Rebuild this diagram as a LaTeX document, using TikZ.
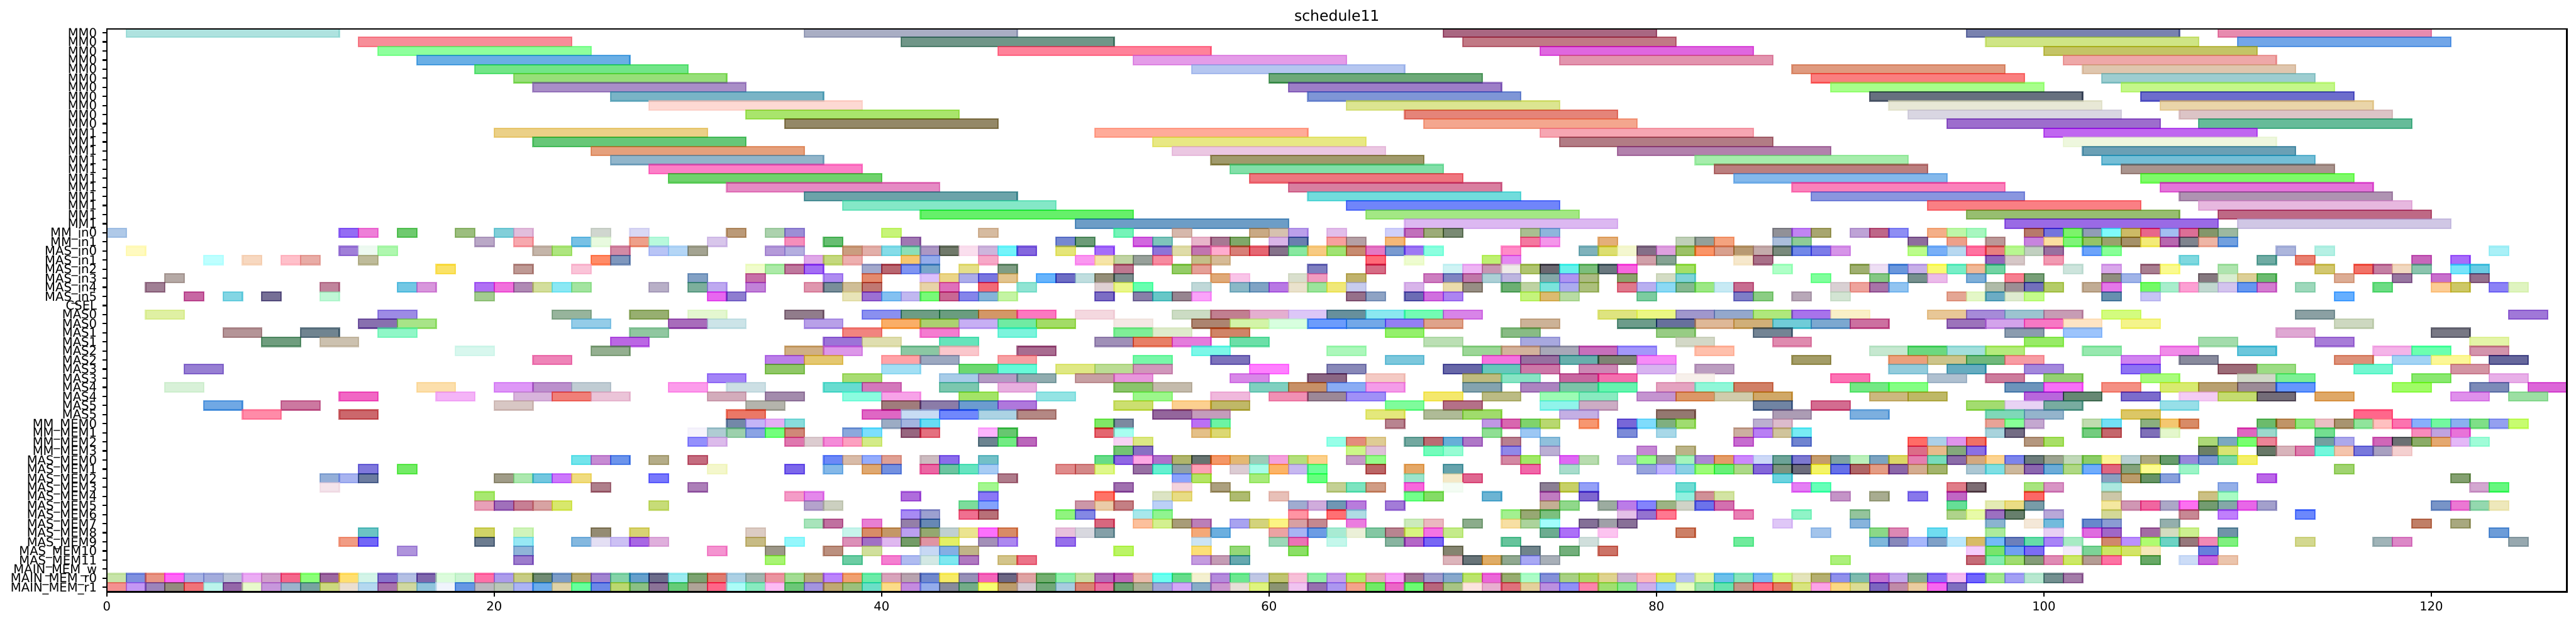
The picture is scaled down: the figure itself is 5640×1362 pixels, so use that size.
\documentclass[tikz,border=0pt]{standalone}
\usepackage{fontspec}
\setmainfont{DejaVu Sans}
\makeatletter
\newcommand\gSplit{}
\def\gSplit#1,#2,#3\relax{\def\gr{#1}\def\gg{#2}\def\gb{#3}}
\makeatother
\newcommand\gBar[4]{% row, start, width, seen colour of the fill over white
  \edef\gTmp{\noexpand\definecolor{cf}{HTML}{#4}}\gTmp
  \extractcolorspecs{cf}{\gM}{\gV}%
  \expandafter\gSplit\gV\relax
  \pgfmathsetmacro\gR{max(0,(\gr-0.4)/0.6)}%
  \pgfmathsetmacro\gG{max(0,(\gg-0.4)/0.6)}%
  \pgfmathsetmacro\gB{max(0,(\gb-0.4)/0.6)}%
  \definecolor{cb}{rgb}{\gR,\gG,\gB}%
  \pgfmathsetmacro\gXa{234+42.41*#2}%
  \pgfmathsetmacro\gXb{234+42.41*(#2+#3)}%
  \pgfmathsetmacro\gYa{71.7+19.89*#1-9.945}%
  \pgfmathsetmacro\gYb{71.7+19.89*#1+9.945}%
  \path[barstyle,fill=cb,draw=cb] (\gXa,\gYa) rectangle (\gXb,\gYb);}
\newcommand\Rw[3]{\foreach \s/\h in {#3}{\gBar{#1}{\s}{#2}{\h}}}
\tikzset{
  barstyle/.style={line width=0.75pt,fill opacity=.6,draw opacity=.6},
  axisline/.style={line width=0.75pt,black},
  ticklabel/.style={inner sep=0pt,font=\fontsize{6.75}{8}\selectfont},
  titlelabel/.style={inner sep=0pt,font=\fontsize{8.1}{10}\selectfont}
}
\begin{document}
\begin{tikzpicture}[x=0.25pt,y=-0.25pt]
\useasboundingbox (0,0) rectangle (5640,1362);
\fill[white] (0,0) rectangle (5640,1362);
\begin{scope}
\clip (234,63) rectangle (5620,1295);
\Rw{0}{11}{1/B0E3DF,36/A9AEC4,69/AA6883,96/7A83B0,109/E78BB0}
\Rw{1}{11}{13/F78E99,41/709689,70/C27986,97/CFE585,110/72A6E8}
\Rw{2}{11}{14/8FFF9E,46/FF829A,74/E067E0,100/C5C466}
\Rw{3}{11}{16/6AB0E5,53/E49CE8,75/E295AE,101/EFA8A8}
\Rw{4}{11}{19/72E689,56/B5C6F0,87/E09B80,102/E0C6AE}
\Rw{5}{11}{21/98DF7A,60/6DA978,88/FA8080,103/9DCDD0}
\Rw{6}{11}{22/AA8EC8,61/9E7EC8,89/A8FF8C,104/C5F88A}
\Rw{7}{11}{26/7AB4C6,62/7F96D6,91/687080,105/6D6DCC}
\Rw{8}{11}{28/FDD9D3,64/DDE691,92/E9E8D6,106/EAD5AA}
\Rw{9}{11}{33/A9E56C,67/E5847A,93/DAD6E3,107/DCC4C6}
\Rw{10}{11}{35/958967,68/F5A68F,95/9E6ECE,108/66BC99}
\Rw{11}{11}{20/ECD087,51/FFAB99,74/F6A6B2,100/C066F0}
\Rw{12}{11}{22/68C878,54/E9E984,75/B37D86,101/EFF8DE}
\Rw{13}{11}{25/E5A07C,55/EBC8E3,78/B381AD,102/6AA0B6}
\Rw{14}{11}{26/92B5CA,57/A09A6C,82/A6EDAC,103/75BED6}
\Rw{15}{11}{28/FC7FC8,58/82DFA8,83/BC8080,104/A9948E}
\Rw{16}{11}{29/70D26E,59/EE7680,84/84B8EC,105/7EFA69}
\Rw{17}{11}{32/E68BC5,61/D87FA0,87/FA82BC,106/E475DA}
\Rw{18}{11}{36/6CA3AA,62/72DDDD,88/8A96E0,107/AF93B3}
\Rw{19}{11}{38/84E8C8,64/7086FB,94/FA8084,108/E7B8E0}
\Rw{20}{11}{42/64F06A,65/A4E884,96/98BE70,109/BF6985}
\Rw{21}{11}{50/6E9DC6,67/DCB8F2,98/9B6BE5,110/D0C8E6}
\Rw{22}{1}{0/B0C9E8,12/946EF5,13/EE7FD8,15/6FCB6F,18/9CBE80,20/82CFD9,21/E3BFDC,25/D0D6CF,27/DAD8F4,32/BB9B78,34/ACD2AE,35/9C8FD6,40/C8F57A,45/D6BBA0,52/75F5B8,55/D6B8AD,59/C9AA84,60/D6C2B0,61/BBA0EC,63/E3BFEA,66/D0D0FA,67/C270BB,68/9CAD78,69/7A8A73,73/A9BF90,74/8FB5DC,86/919197,87/C184F3,88/A8A670,90/BFA3D6,91/BE6688,92/8F8FF5,94/F4B088,95/BFF7A8,96/A8F7C0,99/B77A6A,100/7575DD,101/7DF56A,102/929EB5,103/7FFAFA,104/CDBB66,105/E9668A,106/A3BEF2,107/DD6F96,108/84966A,109/9CB8A0}
\Rw{23}{1}{19/BAA8C8,21/F8A8AE,24/78C2E5,25/E8FAE0,27/EFA08A,28/B8F9DC,31/D8C6EC,35/F68FBB,37/68BE72,41/A078B3,49/7788D0,50/6C9C78,53/D268E0,54/7EC5BC,56/E8B5CB,57/A87893,58/7FA869,60/D9B6E9,61/6B7FAF,63/F8A09E,64/B5A0A5,66/F4B878,73/F478A0,74/F496EA,77/E4B07A,81/C0D0B8,82/95A09A,83/F5A480,86/ABBEDB,87/8FCC98,93/8F6D9E,95/EFA08A,97/BC9898,99/C884DE,100/FCDFA0,101/80F57A,102/94C465,103/9AA26C,104/A59269,105/F3EC78,106/B868B0,107/80848F,108/EFB5A5,109/72A0E0}
\Rw{24}{1}{1/FFFAC0,12/A080D8,13/EEFAF2,14/B0F7B0,22/C5B5A9,23/AEE580,26/D48AA5,28/B8C4F6,29/B4D6F6,30/A3A392,34/B49ADA,35/B4AEE0,38/CB9D80,39/E3B0AA,40/85DCE8,41/8CE0B8,42/AC98C4,43/70796A,44/FBE0EE,45/CEB6DC,46/74F4FA,47/8468DE,49/E6E678,51/A56EF9,54/8E74D8,55/E0DCA8,56/C275B0,57/FFADCF,58/D88078,59/E66672,60/85728A,61/88E8A0,62/F8CB82,63/A0E274,64/C88C70,65/E478C4,66/7A9AD0,67/9D78F5,68/8CFFE0,72/FF8CC8,76/80B2BC,77/DCDE70,78/F5F7D0,79/846F88,80/DEA0E0,81/9CC268,82/FA9468,83/D8A08E,84/B89B72,85/C4ABAB,86/7A8A7D,87/7288E8,88/7D7DE8,89/D695E8,93/BCFC8C,94/7AAFF8,95/B8D8F0,96/FF72A0,97/E88080,98/B8F792,99/C2D0C0,100/9970A0,102/6CA4FA,103/88FF98,112/ACB6DC,114/B6F0E4,123/AAF0F8}
\Rw{25}{1}{5/BEFFFF,7/F8D8C0,9/FFC0CA,10/E8ACA6,13/BEBC9B,25/FF8C68,26/7F97BD,36/E0A8E8,37/C4D87E,38/EDB0B0,41/F8C870,42/94ACEC,45/F8A8C8,50/FB98F0,51/F6E6A8,52/C0D4A4,53/98A09B,54/F68CA0,56/C4BE88,57/D6BC98,65/FF6B78,67/EEFCD0,71/BEF072,72/E488F2,79/D0A0AA,80/86A493,84/F6E8CC,85/A87088,97/9464BC,98/D6C8C8,100/F29AB2,107/80D8E0,111/6FABA3,113/E88070,119/C868BC,121/A86EFA}
\Rw{26}{1}{17/FAE368,21/BF9995,24/FAC4D8,33/F0FCCC,34/ACEAA8,35/BF789D,36/A46EF5,39/A4A9CC,40/B86670,41/7F95F2,42/7AA6CC,44/E6E08A,46/7F9E84,52/BF7890,55/94CC68,56/E4A098,62/8080C0,65/D66C86,69/CFF3F5,70/EEB5F5,71/C896B2,72/EFEBE8,73/B0C470,74/6A6870,75/66F2EC,76/7CBE7C,77/6A7880,78/F866E0,81/A4E064,86/B0FFC8,90/9FB070,91/EEE0F4,92/6A98DC,93/C8B0E8,94/FAFA72,95/78EEC8,96/F0B898,97/72D4A4,101/CEE4DC,103/D9A8EC,105/A87E90,106/FAFA90,109/B0E4B0,114/D2C870,116/F27268,117/C480A4,118/F2D8C0,119/8CC4AE,121/78E4FA,122/6ACCE4}
\Rw{27}{1}{3/B6A9A5,30/82A0C4,33/C870A8,37/AE8CF2,39/E48A6E,42/DCC0FC,43/EBD588,44/ACACEA,45/7A76E0,46/E2C48E,48/68B4FC,49/6E6EC4,50/C0DEE0,51/948E78,52/7C8E8E,57/E0AA78,58/F9C4E8,61/DAE0CE,62/F19CC0,64/C0B26C,68/CE7EC0,69/7F86C2,70/C078A8,71/ADD0D6,72/BDB6E0,74/86A8A8,75/B094F2,76/ACBC84,78/8CA46C,80/D4DCC4,81/80D4D8,88/80FF9C,91/84C884,93/76908E,94/EBBCEA,96/80B0D8,98/F68090,99/789F78,103/908E80,104/A0B4E8,108/86787F,109/D8EED0,110/DCCF98,111/6CBC70,115/DCAC94,118/9876A0,120/C870CC,122/94708F}
\Rw{28}{1}{2/A07F94,11/C0849C,15/72C8E4,16/D896DC,19/B070F5,20/F270DC,21/B08AB4,22/D4DE9C,23/8CE8F5,24/A4E4A0,28/B8B0C8,30/7CB09C,31/BEAAF0,33/C282D8,36/E096AE,37/7A8F9A,38/CFBE98,39/C07872,42/E8D4A8,43/E070BC,45/F26A76,47/90E4D4,51/E0D0D4,52/EAF78C,53/68FFB0,56/C0D8D8,58/8AB8C8,59/80A4C4,60/B878E4,61/EAE2CC,62/9CE49C,63/F0E878,64/C8CCEE,67/D8B4EA,69/EADCAC,70/988E84,72/6CB074,73/BED4A4,74/7CE4DC,75/ACACEE,76/ACC07C,78/E0788C,79/B8B0F0,80/8CDAF5,81/84B890,82/9CE884,83/C8EAF5,84/C86C90,89/DAD0D4,90/EEA49C,91/A874A8,92/92C4F2,97/B0BCA8,98/9C8E94,99/7270BC,100/B4CC68,102/C2AC94,103/E478E8,105/74FA64,106/A8EECC,107/FCA0D4,108/C2D8D0,109/D4C4EE,110/6498F0,111/D47CD0,113/9ED8BC,117/6CDC84,120/FCCC94,121/CEC866,123/8C82F6,124/E0F4C0}
\Rw{29}{1}{4/C868A4,6/84D6E4,8/766F96,11/C0F8D6,19/A4CC90,31/E868F0,32/8E7ED0,38/E8E4B8,39/9C70D4,40/84C2F2,41/C2B8F0,42/78FA78,43/CA6894,44/8686EA,45/86B4D8,46/C4F4A4,51/7C6EC4,53/8880A8,54/68C8C8,55/988590,56/FAA4FA,64/96708A,65/8EA4C4,67/6C6CB4,68/D070E0,69/AC84F2,73/C4F47C,74/DCBC70,75/B8DCA4,79/7CCCA0,84/7E7EC8,85/8CCE84,87/B8A8B8,89/D4E4D4,95/E4A694,96/E4F8C8,97/6CACC4,98/E0ECD0,99/C4FC8C,103/6890B0,105/C8C4F4,115/64B0FF}
\Rw{31}{2}{2/E0F0A4,14/9E8CE6,23/98B49C,27/98B070,30/E4F8D0,35/917D8C,39/8A90F0,41/6E9E84,43/6A9E80,45/D49868,47/FC78C0,50/F4D8E0,55/CCDCC4,57/C28090,59/E4B0D0,61/DCC8F8,63/68909C,65/8CE8F0,67/74FCB4,69/D884E8,77/DEE480,79/ECF884,81/A098CC,83/94A8CC,85/B0E87C,87/A874EC,89/FAF0C8,94/E8C898,96/A68CD8,98/9CC4D0,100/C89CB4,103/D4FC80,113/8CA0A4,124/A078D8}
\Rw{32}{2}{13/8870B0,15/A8E488,24/94CCE8,29/A86CBC,31/CCE4E8,36/B8A0E8,40/FAAE68,42/ACD070,44/C8B0F4,46/70ECA4,48/A4DC64,52/F4E8E4,56/AC8470,58/D4F4A8,60/D8FFE0,62/6C9CFC,64/74A8E8,66/9480F4,68/E0A48C,73/CCB298,78/6E9C8C,80/68709C,82/DEB898,84/D0B078,86/70CCD8,88/7CA8D0,90/CC70A0,95/9C74BC,97/D4A4EC,99/F878C4,101/FEE4C4,104/F4F48C,115/CED8C0}
\Rw{33}{2}{6/B49498,10/708490,14/90F8C8,27/90C8A0,38/F28480,42/F47CD0,46/7CF4DC,52/80EE98,54/E0ECCC,57/D08468,66/94F06C,72/88BC84,80/98CC84,85/748494,98/8C9CB0,101/9CC4FC,112/E0A8D4,120/787884}
\Rw{34}{2}{8/6F9E7E,11/CCC2B0,26/BC68E4,37/9C74D8,39/E0DEB0,43/64E4BC,51/A090B8,53/E88060,55/E47CDC,58/6CE0A8,68/BCE0B4,73/A8A8E0,81/D4D8C8,86/E08CB0,99/98EC64,108/A4DCAC,114/A87CD8,122/E4F4A8}
\Rw{35}{2}{18/D8F8EE,25/94B090,35/D0B084,37/DC98E8,41/8CC8A4,43/FBC8CC,47/A86C90,56/7CF8E8,63/ACF8BC,70/9CD698,72/D4B29C,74/A8A8B8,76/C870BC,78/A498FA,82/FFC0AC,91/C6E8D0,93/6CD880,95/A4E0DC,97/B4EC7C,102/98E8B0,106/F08CE8,110/6CC8DC,117/F4B4E8,119/6CFFB0,122/D494AC}
\Rw{36}{2}{22/EE84B8,34/BC80E8,36/E4C870,40/FFA4A8,42/9CA8C0,46/F8A0A4,53/78F8A8,57/7C72BC,66/7CC8DC,71/F474E0,73/9870A0,75/68B0AC,77/7E8474,79/F88CF8,87/A49C68,92/ECA07C,94/CCC48C,96/70B87C,98/F89CA4,104/D084F0,107/888A9C,115/DC9078,118/A4D4F4,120/FCF898,123/64689C}
\Rw{37}{2}{4/9880D4,34/90C868,40/A4E0F4,44/6CD870,46/68FAD8,49/E0E884,51/BCDC94,53/D098BC,59/FF80FF,63/8888B8,69/6868A8,71/68C8BC,73/CC78A8,76/CC88B4,79/D8B4F0,82/BC9EC0,92/94CCDC,95/60ACC0,99/A488DC,104/8E74F4,109/9C6C78,111/9CDC84,116/74F8D0,121/D494A4}
\Rw{38}{2}{31/A484F8,38/A8DC74,43/A8CCE8,45/B49CC4,47/90ACB0,50/C8A0A4,52/E898DC,58/D888E8,62/8C6884,65/F4CAC4,70/BEBC80,72/88E4C4,75/C868A0,77/F470B0,81/F8F0EC,89/FC74B4,94/B0C0D0,97/CC7C9C,100/94D074,105/A8FC7C,110/D0D8C8,112/7CF094,119/8AE870,123/E8B0E8}
\Rw{39}{2}{3/D8F2D8,16/FCE0AC,20/DE98F8,22/BC90CC,24/C0CCD4,29/FC9CEC,32/CCE0E4,37/68DCD0,39/D478BC,43/7CC8B0,46/E8B0E0,52/8CC46C,54/C4BCAC,59/80D0C0,61/C89068,63/8AACF4,65/F49CE8,70/84A4B0,73/AC84C0,75/7CC4A8,77/68F4B0,80/E4A4C0,82/90F8D8,84/D08060,90/74E884,92/84FF84,98/6C94BC,100/F870F8,103/F49084,106/D8EC70,108/B8A070,110/9C8C98,112/6498FC,118/A0FC58,122/7C8CB8,125/DC60D8}
\Rw{40}{2}{12/F268C4,17/F4B4F8,21/D8B4DC,23/F08078,25/ECC4D8,31/D4ACBC,34/A48CAC,38/8CFCE0,40/F8A4E8,44/A4E468,48/94E4E4,53/9CF88C,57/F0B8DC,60/F090B4,62/9C8898,64/A090F8,68/F4E86C,71/BCBC84,74/9CFCB4,76/88ECC0,79/C494D0,81/DC9868,83/D0CCAC,85/D0A868,91/CCB880,93/BEB864,99/B868DC,101/648874,104/7C6CCC,107/F4CCF4,109/C4DC70,111/746C78,114/E0A868,121/E090EC,124/9CE0A4}
\Rw{41}{2}{5/70A8E4,9/CC78A0,20/D8C8C4,33/B4B4AC,40/A07C7C,42/8C7CA8,44/6C9CD0,46/B078DC,52/CCE070,55/FCD090,57/C0B868,66/80FC9C,69/B47088,74/90F4EC,76/CCACC4,85/7084A4,88/D46C90,96/A4DC70,98/E8D4F4,100/78ACA0,106/98E0E8}
\Rw{42}{2}{7/FF8CA8,12/CC686C,32/EC7868,39/E068C4,41/C8DCF4,43/7088FC,45/ACD4E4,47/B48884,54/94649C,56/C49CBC,65/E4E87C,68/B0BC98,70/A0DC6C,75/C4B0E4,80/947870,86/AC9CB4,90/7CB0E0,97/80D8B8,99/94B4CC,104/DCC864,116/FF688C}
\Rw{43}{1}{32/7488A8,33/C4B4F8,34/E4B0F4,35/88DCDC,40/9CACC4,41/A4B4E0,42/68DCF4,51/80E860,52/7C8AA0,56/BC70F4,57/6CF4A4,66/B88490,71/C098E4,72/D868B0,73/80D46C,74/B8D870,76/F89870,78/7868D8,79/80DCFC,80/80B080,81/A0DC70,85/BCB0D0,86/DCBCCC,97/E8A498,98/88FF98,99/C4A8D0,102/C0DCB0,103/74E0F4,105/8CB080,106/F4C870,107/D88C68,111/6CBC6C,112/C09468,113/90E880,114/ECC0C4,115/A89470,116/90E49C,117/FFC0C0,118/FC74B0,119/88B0FC,120/74F8A0,121/8CB0F0,122/80E088,123/94A0F0,124/C8FC70}
\Rw{44}{1}{30/F6F4FC,31/B0CCD4,32/9CD0AC,33/8CA4E4,34/74FF7C,35/D08878,38/8CA8DC,39/7CE0FC,41/985C80,42/E47080,45/FCB4FC,46/68C870,51/E46470,52/A8FFF0,56/E4C088,57/DCD874,71/90E094,73/9CC8F4,78/7C8CD8,80/A8D8E8,84/CCB0A0,85/B880F4,86/D0C49C,87/78ECF4,97/A8D4DC,98/746C84,102/74CC80,103/C4686C,105/8070B8,106/E4F8CC,110/E064C0,111/9CD8CC,114/74E090,119/F88CBC,120/C0A4E0,121/E874D8}
\Rw{45}{1}{30/9490FC,31/DCBCEC,35/E078B0,36/DCCCD0,37/F48CD8,38/FCA0C0,39/D4EC88,45/6C8490,46/74EC84,47/BC68BC,52/F8D4F4,53/DCE884,63/98FFE8,64/E48C7C,65/E0CC94,67/74A8A0,68/BC6C74,69/68B0D8,70/B078C8,72/B88090,74/90C0DC,84/C86CD0,87/7084D0,93/FF6C68,94/ACD0E8,95/E094EC,96/F07064,99/B49880,100/A8E05C,108/ACD878,109/7CA8C0,110/78FF70,111/EC8498,114/74A0A0,115/ACA8EC,117/D068B8,118/6C7074,119/8CAC68,120/E4A870,121/E4B8F8,122/A0FCD8}
\Rw{46}{1}{52/74C474,53/8870C4,64/CCF888,65/E0C0D8,68/74FCBC,69/98FCD4,72/9088E8,74/BCB0D4,79/C488D4,81/BCB488,93/DC6C88,94/E8BC8C,95/84A87C,96/8C70E4,108/6C8068,109/D8E474,111/687868,112/D8B4BC,113/DC7CAC,114/74F8DC,115/F4C4AC,116/7878DC,117/A8A0C0,118/F4D0D0}
\Rw{47}{1}{24/74E4EC,25/C68CD4,26/6C94EC,28/B4AC88,30/C46C80,37/6C88F8,38/D8BCA8,39/94ACFC,40/E0A094,42/CCBCC0,43/8C6CEC,45/74C0C8,51/68DC88,52/9068E4,53/FCA8E4,54/B070CC,55/B0B46C,56/687470,57/F49868,58/E4B874,59/9CCCB8,60/F4A0DC,61/B4E07C,62/FCD08C,64/C49CC8,65/94FC88,72/D488A4,73/A0E868,75/E068F4,76/B8DCB0,78/B8A8EC,79/98FC88,80/A09CA4,81/A4F4BC,82/AC88D4,83/E49C68,84/CC88FC,85/CCD8F8,86/6CA498,87/7C78D0,88/C49C6C,89/80A4A4,90/BCF0BC,91/7CA4C0,92/DCD860,93/E480B0,94/78DCBC,95/8C6CA8,96/D4A880,97/FCD490,98/7C84EC,99/6C7C7C,100/9CA490,101/C0D8B8,102/8CCC68,103/FCF498,104/B8D0D4,105/ACA880,106/689C6C,107/9888DC,108/7C98D4,109/78D8A8,110/F4F068}
\Rw{48}{1}{13/8078DC,15/74EC60,31/F4F8CC,35/7C68EC,37/84B8E8,39/E0A870,40/7490E0,42/EC64A4,43/6CC4A0,44/64E4C0,45/A8CCF4,49/E08C8C,50/D48888,51/E0F88C,53/9870A4,54/64F0D0,55/90A0A8,56/FCA0B4,58/DCCCD4,59/A8FCE8,60/FCB468,61/C8B8F0,62/6CFF98,65/BC6464,67/E4A868,69/60A4AC,73/F068A8,75/A8DCCC,79/98A4DC,80/C0B4FC,81/8CD0E4,82/9CFC78,83/68F078,84/ACD888,85/8468D8,86/7C9480,87/6C6C7C,88/F4F460,89/6470E8,90/B06468,91/E49C84,92/8C68A8,93/D4AC90,94/A4B46C,96/ACC8D4,97/80E0E4,98/CCB89C,99/8C68B0,100/6CACD8,101/B0D884,102/70ACFC,103/E06480,104/84A47C,105/FCFC90,107/9CF4C8,115/A0D470}
\Rw{49}{1}{11/94B0D8,12/A8B4F0,13/6C7CA0,20/A09C88,21/ACE8B0,22/74C8E0,23/CC78FC,24/F0DC80,28/7878FC,46/B07C8C,55/8CA4FC,56/B4E45C,59/A8EC7C,62/68FF80,67/9CE4CC,69/F4E8C8,70/E06890,86/6CD4E0,103/8CA0C0,104/BC9C6C,105/689460,106/88A0DC,111/BC68E8,121/84A070}
\Rw{50}{1}{11/F4E4EC,25/B0808C,30/AC80B8,45/A4F890,52/A070B0,55/F4D4DC,57/ACA080,63/C4D094,64/7CE4C0,65/D09C84,67/F868DC,69/F4FCF4,74/8C8094,75/C8D068,76/94A0F8,81/70DCD4,87/E480F4,88/60FFB8,95/E07C88,96/7C6C74,99/A8E480,100/D894C4,103/ACE8E0,109/94B0E8,122/D4A8D0,123/64F880}
\Rw{51}{1}{19/A8E870,35/F49CC8,36/E488EC,41/B06CDC,45/8C78F8,51/FF7468,54/DCE4C4,55/E8DC84,58/AEBC70,60/E8C0B8,67/74FF8C,68/84DC60,71/6CB4D4,74/C07CC0,76/8068D0,81/90F0E0,82/D09098,83/D4E4A4,89/C494C8,91/A8AC90,93/8878EC,95/C068C4,99/FC6860,103/CCC8A8,108/CCC084,109/A8FCC4}
\Rw{52}{1}{19/E8A0B8,20/A070BC,21/C88094,22/D8A4A4,23/D8E86C,28/C8DC78,36/B4A4CC,37/CCD0C0,44/7CDC9C,45/84A4FC,50/CC98A8,51/EACCA8,52/C48084,54/BCD0F8,61/A0ACD0,62/D0ACDC,63/7098B4,64/B87CDC,66/A47CD8,74/C4B094,75/90D88C,77/9CACA0,78/BC7CE8,79/8484FC,80/9CB484,81/D0D4C8,82/6C74EC,83/D470B0,95/64E098,97/E4ECB4,98/ECDC84,99/789CA8,103/F4E8A0,104/D098B4,105/F064A0,106/ACA8C8,107/FC70F0,108/749C70,109/84A8A8,110/E868E8,111/A4A0CC,120/7894C8,121/EC78D4,122/94D8B0,123/EEE8BC}
\Rw{53}{1}{41/A88CF4,42/9CA0D0,44/F07090,45/B87078,49/90F480,50/8488E4,53/A8E8EC,54/90F490,61/FF94A4,63/FF7074,64/B0DCE4,72/A4F090,73/98A874,74/7CC080,78/E4C0E8,79/9474D0,80/FF7890,84/E880B4,87/90F4C8,90/94C49C,95/B0D48C,96/E8FAA8,97/9C70C0,98/68806C,100/B8A8D8,103/D4D898,107/C88894,109/C080FC,113/6C88FC}
\Rw{54}{1}{36/A8E4BC,37/C070A0,39/E880D4,41/9480A8,42/6888B4,51/D86880,53/FCC09C,54/D4F090,55/A89C78,56/BC80B8,58/A8A4F0,59/D4D47C,60/FCF484,61/D8A0A4,62/C48890,64/EC7CE0,67/CCECBC,68/ECB8C0,70/8CAC8C,72/F8E0A4,73/ACD49C,74/A4FCFC,76/847098,77/A0A0A8,78/887098,86/E0C8F8,90/88B4DC,97/8CB4D0,99/F4E8D8,100/74BCDC,102/6888CC,103/8C9CD4,106/94B0AC,119/C08068,121/A8A880}
\Rw{55}{1}{13/6CC4C4,19/D0D468,21/D0F4BC,25/948C74,27/D8D474,33/DCCCC4,38/C8F4EC,39/D88C68,40/C49868,41/BCA0F0,42/94A870,43/C0D0D0,44/ECE490,45/FC70FC,46/D88C68,49/E8C0DC,50/D8D8E0,51/84A0A8,56/F4A878,57/6CB0E0,60/ECA4A4,61/A8B4F4,62/6C9CE4,63/A8ECD4,64/ECF0D8,65/84C8A4,66/B88490,67/D8F480,68/F474E4,69/C4EC8C,74/6CAC90,75/AC70F8,77/FCC4F0,81/CC8060,88/A4C4EC,91/8CD888,92/DC88B4,94/70DCF0,97/ACEC9C,100/E8D0F4,102/E06CE0,103/A068C8,105/A46CA4,106/D4DCC0,107/CCF090,109/7094A8,123/6C9CD8}
\Rw{56}{1}{12/F29C84,13/7468F8,19/6C7C90,21/98E8F4,24/84B8E0,25/E4E0F4,26/CCC0F4,27/A868E4,28/E0B0DC,33/C8BC84,35/94F8FC,38/DC90B8,39/A070C4,40/E0B8F0,41/749C68,42/E094A4,43/E4F064,45/A490B8,46/AC88F0,49/9870EC,56/CCE4F4,60/9CD8B8,61/EC74B4,63/C4F8EC,66/88B4A0,67/B468C8,68/7868F4,72/64C49C,76/D0E0DC,84/70EC9C,91/80B8DC,92/8888BC,93/A8B8FC,94/80A0C8,95/BCE8FC,96/D8BC68,97/74BCF8,98/6C80BC,99/64DCA8,100/A884F8,101/A8ECC4,103/D0886C,104/BC90FC,105/B0FC70,106/6CD4C4,107/98787C,108/F088B4,109/80F080,113/D4D890,117/A0B4B8,118/DC88C8,124/98A8B0}
\Rw{57}{1}{15/B094DC,21/90B4D8,31/F494D0,34/9C9888,37/BC9080,39/D0E09C,42/C8D8F4,43/84B0E4,44/C0B488,52/BCF460,56/FCE078,58/94D878,61/8CE064,69/848470,73/70848C,75/74B07C,77/CC7468,96/F4CCFC,97/78E46C,98/70A0F0,99/7C6CF4,101/F4ECFC,102/7CD498,103/CCE464,104/D4E468,105/F4E8B8,108/6880DC}
\Rw{58}{1}{21/9C7CCC,34/A8F474,38/6CCCA4,40/F480D0,41/B0BCF0,42/D4E8E4,43/80E8F0,44/B078C0,46/D4C48C,47/EC7488,56/C49CE0,57/C49CB4,58/64A8B0,69/DCB4BC,70/687478,71/E0AC64,72/90A890,73/A8A8F4,74/A8B0B8,89/ACF07C,96/C46C78,97/84ECB0,98/A0DC70,99/849C78,100/E08CB4,101/CCE864,102/B49C94,103/FC74A4,105/68A860,107/CCDCF8,108/C860DC,109/ECC4AC}
\Rw{60}{1}{0/C8E4A8,1/8090E0,2/E89484,3/FF64F8,4/A8B4E4,5/A4ACDC,6/BCC4D8,7/ECACF4,8/D0A0CC,9/F4688C,10/8CFF78,11/9C68A0,12/FFE070,13/D4F4E8,14/8874CC,15/B4C0E4,16/8068AC,17/DCFCDC,18/CCF4D4,19/FF70A8,20/AC9CEC,21/C8CC84,22/708C74,23/7C9CC8,24/B8AC70,25/A084D0,26/84D4A8,27/60A0CC,28/6C6C8C,29/9CECF0,30/7CA470,31/E07C70,32/ACD0E4,33/A4B4B0,34/EC94A0,35/A4DC94,36/B8AC80,37/BC84FC,38/F0A070,39/6CECA8,40/D8A4BC,41/B8A4B0,42/7088CC,43/F8EC64,44/9890B8,45/F464BC,46/6C6884,47/E0A4A4,48/74B070,49/90F0AC,50/CCDCA4,51/B470B8,52/C068B8,53/ECBCAC,54/6CFFF0,55/64DC8C,56/F4F0D0,57/B48CDC,58/6CE890,59/C0C8E4,60/C0C470,61/F8C0D8,62/90F0A8,63/C8A0EC,64/B0F068,65/E8ACB8,66/F8A4F8,67/A47898,68/A09CCC,69/88A8CC,70/BCE46C,71/EC68D8,72/98AC70,73/ACFCC8,74/8490D8,75/A8D084,76/B0D868,77/E0D490,78/CCB4D4,79/FCB8BC,80/E0EC64,81/B8C4F0,82/E4F8A4,83/6CC0EC,84/88E4BC,85/7CB8F4,86/D0FC8C,87/E4E4BC,88/B4B070,89/9090EC,90/80BCB0,91/C474D4,92/C4A8EC,93/88B090,94/8870F4,95/F4BCF0,96/7064FC,97/A0E890,98/A4A0F4,99/B8E8D0,100/749090,101/A47CA8}
\Rw{61}{1}{0/F49090,1/C498F4,2/9C84BC,3/948C80,4/F07478,5/BCF4EC,6/9468A8,7/E8FACC,8/C898DC,9/9CB4CC,10/78A4A0,11/CCD880,12/ECE0D0,13/B4D8F0,14/A874AC,15/D0D8A0,16/90C4DC,17/F0F4FC,18/6498E4,19/BCB8C0,20/BCC8B8,21/ACB4F4,22/6CACEC,23/E0D4A8,24/68FF9C,25/6C88E8,26/BCD870,27/8CC084,28/8C7498,29/60CC78,30/B0A498,31/FF6488,32/ACFCF8,33/88ECC0,34/FCBCF4,35/6CC878,36/A494E0,37/C0A874,38/9CC07C,39/6CE0C8,40/FCDC88,41/C48CE0,42/94ACEC,43/888C9C,44/74AC88,45/F8FF74,46/BC9C6C,47/D4C8D0,48/70A878,49/A8CCE0,50/D88474,51/E870A0,52/6CA474,53/A8B094,54/A0A8D8,55/D4A8F8,56/88ACC8,57/CC98D0,58/E8E0D8,59/E0F480,60/8C9474,61/F0C4F0,62/9870B0,63/AC98F0,64/F4A48C,65/70EC68,66/EC68C8,67/6CFC74,68/B8607C,69/A8C484,70/FCE4E0,71/E8B0D0,72/E0707C,73/E4D09C,74/BC90E0,75/9090F8,76/FC84AC,77/A0E070,78/8CE890,79/CCB0EC,80/94D0FC,81/E8FCC0,82/9CE4B0,83/68E4B0,84/C49888,85/FF6C84,86/E47C60,87/D8E480,88/FCA4E8,89/FCD884,90/DCDC94,91/7C64C0,92/C08CA8,93/ECCCA0,94/F868F0,95/8070C0}
\end{scope}
\draw[axisline] (234,63) rectangle (5620,1295);
\foreach \lab [count=\i from 0] in {MM0,MM0,MM0,MM0,MM0,MM0,MM0,MM0,MM0,MM0,MM0,MM1,MM1,MM1,MM1,MM1,MM1,MM1,MM1,MM1,MM1,MM1,MM\_in0,MM\_in1,MAS\_in0,MAS\_in1,MAS\_in2,MAS\_in3,MAS\_in4,MAS\_in5,CSEL,MAS0,MAS0,MAS1,MAS1,MAS2,MAS2,MAS3,MAS3,MAS4,MAS4,MAS5,MAS5,MM\_MEM0,MM\_MEM1,MM\_MEM2,MM\_MEM3,MAS\_MEM0,MAS\_MEM1,MAS\_MEM2,MAS\_MEM3,MAS\_MEM4,MAS\_MEM5,MAS\_MEM6,MAS\_MEM7,MAS\_MEM8,MAS\_MEM9,MAS\_MEM10,MAS\_MEM11,MAIN\_MEM\_w,MAIN\_MEM\_r0,MAIN\_MEM\_r1}{
  \pgfmathsetmacro\yy{71.7+19.89*\i}
  \draw[axisline] (224,\yy) -- (234,\yy);
  \node[ticklabel,anchor=base east] (ylab\i) at (213,\yy+9.8) {\lab};
}
\foreach \t in {0,20,...,120}{
  \pgfmathsetmacro\xx{234+42.41*\t}
  \draw[axisline] (\xx,1295) -- (\xx,1305);
  \node[ticklabel,anchor=base] (xlab\t) at (\xx,1336) {\t};
}
\node[titlelabel,anchor=base] (title) at (2927,46) {schedule11};
\end{tikzpicture}
\end{document}
